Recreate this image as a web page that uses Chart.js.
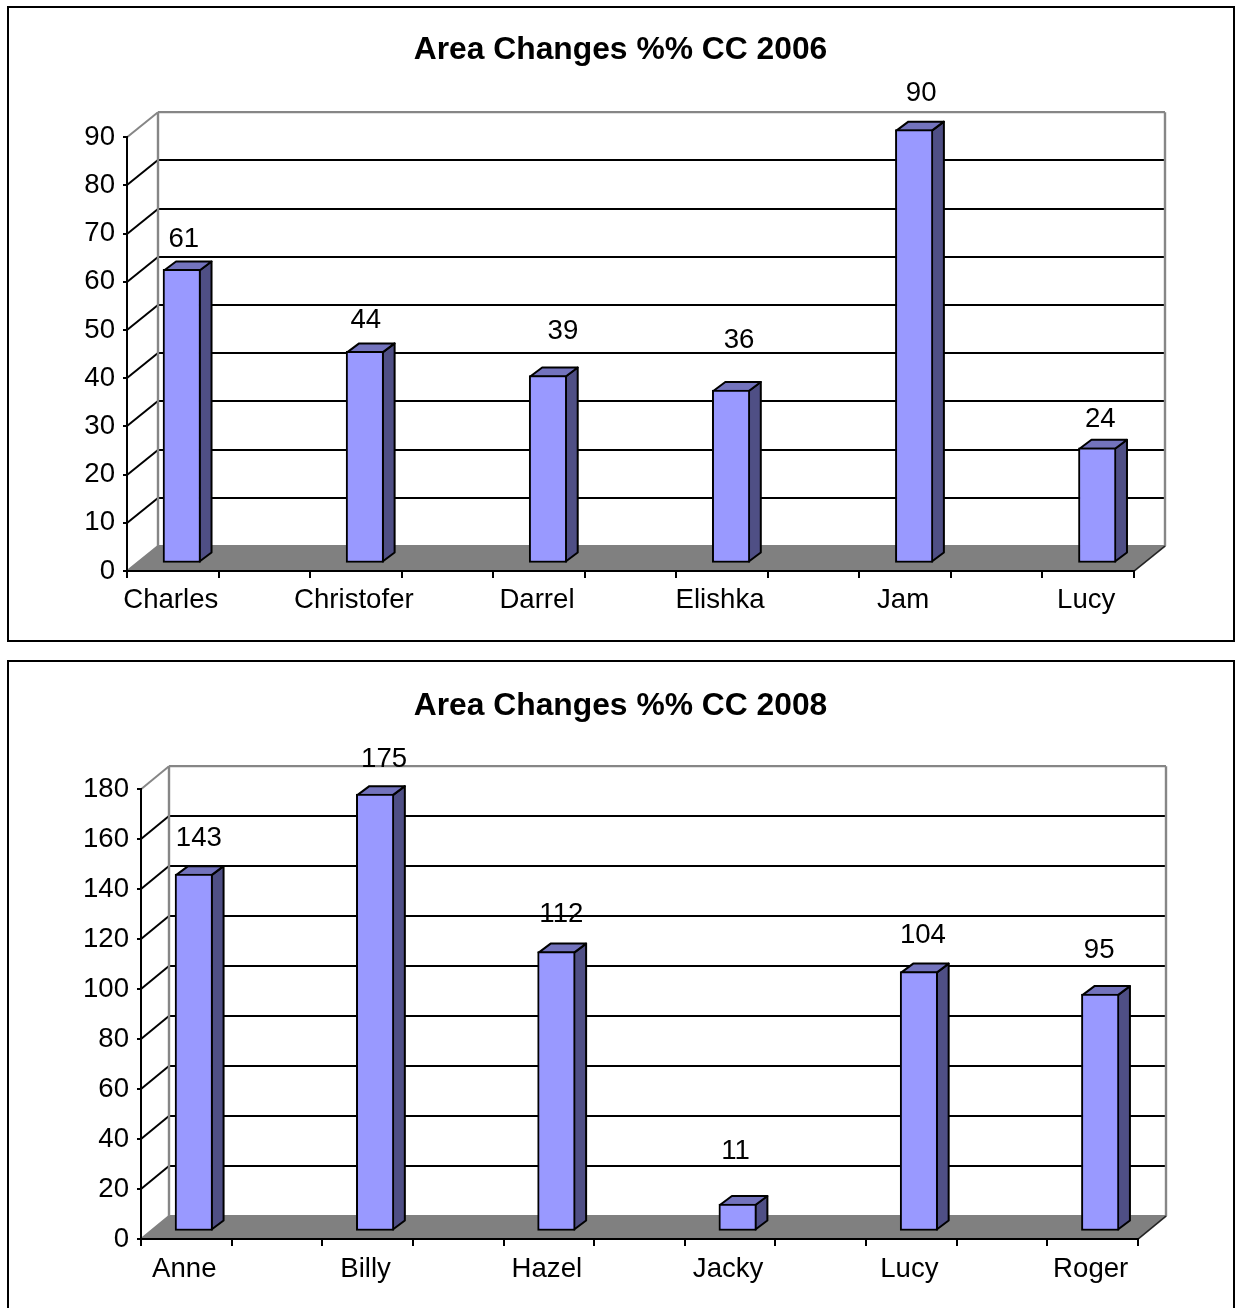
<!DOCTYPE html>
<html>
<head>
<meta charset="utf-8">
<title>Area Changes</title>
<script src="https://cdn.jsdelivr.net/npm/chart.js@4"></script>
<style>
    html, body { margin: 0; padding: 0; background: #fff; width: 1237px; height: 1308px; overflow: hidden; }
    .frame { position: absolute; left: 7px; width: 1228px; box-sizing: border-box; border: 2px solid #000; }
    #frame1 { top: 6px; height: 636px; }
    #frame2 { top: 660px; height: 700px; }
    canvas { position: absolute; left: 0; }
    #chart1 { top: 0; }
    #chart2 { top: 655px; }
</style>
</head>
<body>
<div class="frame" id="frame1"></div>
<div class="frame" id="frame2"></div>
<canvas id="chart1" width="1237" height="650"></canvas>
<canvas id="chart2" width="1237" height="653"></canvas>
<script>
// every second slot is an empty category in the original sheet
const names2006 = ['Charles', '', 'Christofer', '', 'Darrel', '', 'Elishka', '', 'Jam', '', 'Lucy'];
const values2006 = [61, null, 44, null, 39, null, 36, null, 90, null, 24];
const names2008 = ['Anne', '', 'Billy', '', 'Hazel', '', 'Jacky', '', 'Lucy', '', 'Roger'];
const values2008 = [143, null, 175, null, 112, null, 11, null, 104, null, 95];

const FONT = '"Liberation Sans", Arial, sans-serif';
const WALL = '#868686';
const TEXT_SIZE = 27.6;

function line(ctx, x1, y1, x2, y2, color, width) {
    ctx.strokeStyle = color;
    ctx.lineWidth = width;
    ctx.beginPath();
    ctx.moveTo(x1, y1);
    ctx.lineTo(x2, y2);
    ctx.stroke();
}

function poly(ctx, pts, fill, stroke) {
    ctx.beginPath();
    ctx.moveTo(pts[0][0], pts[0][1]);
    pts.slice(1).forEach((p)=>ctx.lineTo(p[0], p[1]));
    ctx.closePath();
    ctx.fillStyle = fill;
    ctx.fill();
    ctx.strokeStyle = stroke;
    ctx.lineWidth = 2;
    ctx.lineJoin = 'round';
    ctx.stroke();
}

// fake 3d: back wall, floor, bar sides and the hand placed value labels
function depthPlugin(cfg) {
    return {
        id: 'depth',
        beforeDraw(chart) {
            const ctx = chart.ctx, y = chart.scales.y, a = chart.chartArea;
            const dx = cfg.wallDx, dy = cfg.wallDy;
            const base = y.getPixelForValue(0), top = y.getPixelForValue(cfg.max);
            ctx.save();
            poly(ctx, [[a.left, base], [a.right, base], [a.right + dx, base + dy], [a.left + dx, base + dy]], '#808080', '#808080');
            for (let v = cfg.step; v < cfg.max; v += cfg.step) {
                const py = Math.round(y.getPixelForValue(v));
                line(ctx, a.left, py, a.left + dx, py + dy, '#000', 2);
                line(ctx, a.left + dx, py + dy, a.right + dx, py + dy, '#000', 2);
            }
            line(ctx, a.left, top, a.left + dx, top + dy, WALL, 2);
            line(ctx, a.left + dx, top + dy, a.right + dx, top + dy, WALL, 2.4);
            line(ctx, a.left + dx, top + dy, a.left + dx, base + dy, WALL, 2.4);
            line(ctx, a.right + dx, top + dy, a.right + dx, base + dy, WALL, 2.4);
            line(ctx, a.right, base, a.right + dx, base + dy, '#222', 1.6);
            ctx.restore();
        },
        beforeDatasetsDraw(chart) {
            const ctx = chart.ctx;
            const data = chart.data.datasets[0].data;
            ctx.save();
            chart.getDatasetMeta(0).data.forEach((bar, i)=>{
                if (data[i] === null) return;
                const r = bar.x + cfg.barDx + bar.width / 2 - 1;
                const l = r - bar.width + 2;
                const t = bar.y + cfg.barDy + 1;
                const b = bar.base + cfg.barDy - 1;
                poly(ctx, [[r, t], [r + cfg.sideDx, t + cfg.sideDy], [r + cfg.sideDx, b + cfg.sideDy], [r, b]], '#4f4f85', '#000');
                poly(ctx, [[l, t], [l + cfg.sideDx, t + cfg.sideDy], [r + cfg.sideDx, t + cfg.sideDy], [r, t]], '#7373bd', '#000');
            });
            ctx.restore();
            // bars themselves sit a little behind the axis plane
            ctx.save();
            ctx.translate(cfg.barDx, cfg.barDy);
        },
        afterDatasetsDraw(chart) {
            const ctx = chart.ctx;
            const data = chart.data.datasets[0].data;
            ctx.restore();
            ctx.save();
            ctx.fillStyle = '#000';
            ctx.font = TEXT_SIZE + 'px ' + FONT;
            ctx.textAlign = 'center';
            ctx.textBaseline = 'middle';
            let n = 0;
            chart.getDatasetMeta(0).data.forEach((bar, i)=>{
                if (data[i] === null) return;
                ctx.fillText(String(data[i]), bar.x + cfg.barDx + cfg.labelShift[n], bar.y + cfg.barDy - cfg.labelLift[n]);
                n++;
            });
            ctx.restore();
        }
    };
}

function drawChart(id, text, names, values, cfg) {
    new Chart(document.querySelector(id), {
        type: 'bar',
        data: {
            labels: names,
            datasets: [{
                data: values,
                backgroundColor: '#9999ff',
                borderColor: '#000',
                borderWidth: 2,
                borderSkipped: false,
                barThickness: 37.5,
                clip: false,
            }]
        },
        options: {
            responsive: false,
            animation: false,
            layout: { padding: { left: 4 } },
            plugins: {
                legend: { display: false },
                tooltip: { enabled: false },
                title: {
                    display: true,
                    text: text,
                    color: '#000',
                    font: { family: FONT, size: 31.8, weight: 'bold', lineHeight: 1.2 },
                    padding: { top: cfg.titleTop, bottom: cfg.titleBottom },
                },
            },
            scales: {
                x: {
                    grid: { offset: true, drawOnChartArea: false, tickLength: 7, color: '#000', lineWidth: 2 },
                    border: { color: '#000', width: 2 },
                    ticks: { color: '#000', font: { family: FONT, size: TEXT_SIZE }, autoSkip: false, maxRotation: 0, padding: cfg.tickPad, labelOffset: -2 },
                    afterFit(s) { s.height = cfg.xHeight; },
                },
                y: {
                    min: 0,
                    max: cfg.max,
                    grid: { drawOnChartArea: false, tickLength: 4, color: '#000', lineWidth: 2 },
                    border: { color: '#000', width: 2 },
                    ticks: { color: '#000', font: { family: FONT, size: TEXT_SIZE }, stepSize: cfg.step, padding: 8 },
                    afterFit(s) { s.width = cfg.yWidth - 4; },
                },
                // empty axis, only keeps the room on the right so the title stays centred on the page
                spacer: {
                    position: 'right',
                    grid: { display: false },
                    border: { display: false },
                    ticks: { display: false },
                    afterFit(s) { s.width = cfg.padRight; },
                },
            },
        },
        plugins: [depthPlugin(cfg)],
    });
}

drawChart('#chart1', 'Area Changes %% CC 2006', names2006, values2006, {
    max: 90, step: 10,
    yWidth: 127, xHeight: 79, padRight: 103, titleTop: 31, titleBottom: 68, tickPad: 6,
    wallDx: 31, wallDy: -25, barDx: 9, barDy: -7.5, sideDx: 12, sideDy: -9,
    labelShift: [2, 1, 15, 8, 7, 3],
    labelLift: [30, 31, 44, 50, 36, 28],
});

drawChart('#chart2', 'Area Changes %% CC 2008', names2008, values2008, {
    max: 180, step: 20,
    yWidth: 141, xHeight: 69, padRight: 99, titleTop: 32, titleBottom: 64, tickPad: 7,
    wallDx: 28, wallDy: -23, barDx: 7.5, barDy: -7.5, sideDx: 12, sideDy: -9,
    labelShift: [5, 9, 5, -2, 4, -1],
    labelLift: [36, 35, 37, 53, 36, 44],
});
</script>
</body>
</html>
